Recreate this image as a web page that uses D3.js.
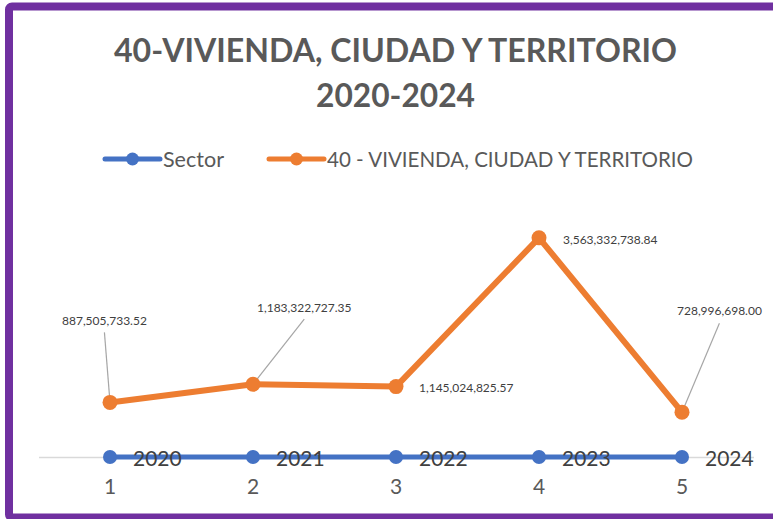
<!DOCTYPE html>
<html>
<head>
<meta charset="utf-8">
<script src="https://cdn.jsdelivr.net/npm/d3@7"></script>
<style>
  html, body { margin: 0; padding: 0; background: #fff; }
  svg { display: block; font-family: Lato, "Open Sans", sans-serif; }
</style>
</head>
<body>
<svg id="chart" width="773" height="519"></svg>
<script>
// Chart data
const categories = [1, 2, 3, 4, 5];
const sectorValues = [2020, 2021, 2022, 2023, 2024];
const viviendaValues = [887505733.52, 1183322727.35, 1145024825.57, 3563332738.84, 728996698.00];
const seriesNames = ["Sector", "40 - VIVIENDA, CIUDAD Y TERRITORIO"];
const titleLines = ["40-VIVIENDA, CIUDAD Y TERRITORIO", "2020-2024"];

const BLUE = "#4472C4", ORANGE = "#ED7D31", PURPLE = "#7030A0";
const TEXT = "#404040", TITLE = "#595959";

const svg = d3.select("#chart");

// Frame
svg.append("rect")
  .attr("x", 9).attr("y", 6.5)
  .attr("width", 800).attr("height", 511)
  .attr("rx", 3)
  .attr("fill", "none")
  .attr("stroke", PURPLE)
  .attr("stroke-width", 8);

// Title
const titleSpecs = [{ y: 61.5, w: 563 }, { y: 106.5, w: 159 }];
titleLines.forEach((t, i) => {
  svg.append("text")
    .attr("x", 395.5).attr("y", titleSpecs[i].y)
    .attr("text-anchor", "middle")
    .attr("font-size", 32).attr("font-weight", 700)
    .attr("fill", TITLE)
    .attr("textLength", titleSpecs[i].w)
    .attr("lengthAdjust", "spacingAndGlyphs")
    .text(t);
});

// Scales
const x = d3.scaleBand().domain(categories).range([38.5, 753.5]).paddingInner(0).paddingOuter(0);
const cx = d => x(d) + x.bandwidth() / 2;
const y = d3.scaleLinear().domain([0, 4e9]).range([457, 211]);

// Category axis
const axisG = svg.append("g")
  .attr("transform", `translate(0,${y(0)})`)
  .call(d3.axisBottom(x).tickSize(0).tickPadding(22));
axisG.select(".domain").attr("stroke", "#D9D9D9").attr("stroke-width", 1.5);
axisG.selectAll(".tick text")
  .attr("font-family", "Lato, sans-serif")
  .attr("font-size", 21)
  .attr("fill", TITLE);

// Sector series
const sectorData = categories.map((c, i) => ({ c, v: sectorValues[i] }));
const line = d3.line().x(d => cx(d.c)).y(d => y(d.v));
svg.append("path")
  .datum(sectorData)
  .attr("d", line)
  .attr("fill", "none")
  .attr("stroke", BLUE)
  .attr("stroke-width", 5)
  .attr("stroke-linecap", "round");
svg.selectAll(".sector-pt").data(sectorData).join("circle")
  .attr("cx", d => cx(d.c)).attr("cy", d => y(d.v))
  .attr("r", 7).attr("fill", BLUE);
svg.selectAll(".sector-lbl").data(sectorData).join("text")
  .attr("x", d => cx(d.c) + 23)
  .attr("y", d => y(d.v) + 9.5)
  .attr("font-size", 21)
  .attr("fill", TEXT)
  .text(d => d.v);

// Vivienda series
const vivData = categories.map((c, i) => ({ c, v: viviendaValues[i] }));
const labelOffsets = [
  { dx: -48, dy: -82, leader: true },
  { dx: 4, dy: -77, leader: true },
  { dx: 23, dy: 1, leader: false },
  { dx: 24, dy: 2, leader: false },
  { dx: -5, dy: -101, leader: true }
];
const fmt = d3.format(",.2f");

// Leader lines
vivData.forEach((d, i) => {
  const o = labelOffsets[i];
  if (!o.leader) return;
  const px = cx(d.c), py = y(d.v);
  const tmp = svg.append("text").attr("font-size", 12).text(fmt(d.v));
  const w = tmp.node().getComputedTextLength();
  tmp.remove();
  svg.append("line")
    .attr("x1", px + o.dx + w / 2).attr("y1", py + o.dy + 12)
    .attr("x2", px).attr("y2", py)
    .attr("stroke", "#A6A6A6").attr("stroke-width", 1.2);
});

svg.append("path")
  .datum(vivData)
  .attr("d", line)
  .attr("fill", "none")
  .attr("stroke", ORANGE)
  .attr("stroke-width", 6)
  .attr("stroke-linejoin", "round")
  .attr("stroke-linecap", "round");
svg.selectAll(".viv-pt").data(vivData).join("circle")
  .attr("cx", d => cx(d.c)).attr("cy", d => y(d.v))
  .attr("r", 7.5).attr("fill", ORANGE);
svg.selectAll(".viv-lbl").data(vivData).join("text")
  .attr("x", (d, i) => cx(d.c) + labelOffsets[i].dx)
  .attr("y", (d, i) => y(d.v) + labelOffsets[i].dy + 4.3)
  .attr("font-size", 12)
  .attr("fill", TEXT)
  .text(d => fmt(d.v));

// Legend
const legendItems = [
  { name: seriesNames[0], color: BLUE, x0: 105, x1: 160, tx: 163, w: 61 },
  { name: seriesNames[1], color: ORANGE, x0: 269, x1: 324, tx: 327, w: 366 }
];
const ly = 159;
legendItems.forEach(it => {
  svg.append("line")
    .attr("x1", it.x0).attr("x2", it.x1).attr("y1", ly).attr("y2", ly)
    .attr("stroke", it.color).attr("stroke-width", 5).attr("stroke-linecap", "round");
  svg.append("circle")
    .attr("cx", (it.x0 + it.x1) / 2).attr("cy", ly).attr("r", 6.5).attr("fill", it.color);
  svg.append("text")
    .attr("x", it.tx).attr("y", ly + 7.5)
    .attr("font-size", 21)
    .attr("fill", TITLE)
    .attr("textLength", it.w)
    .attr("lengthAdjust", "spacingAndGlyphs")
    .text(it.name);
});
</script>
</body>
</html>
